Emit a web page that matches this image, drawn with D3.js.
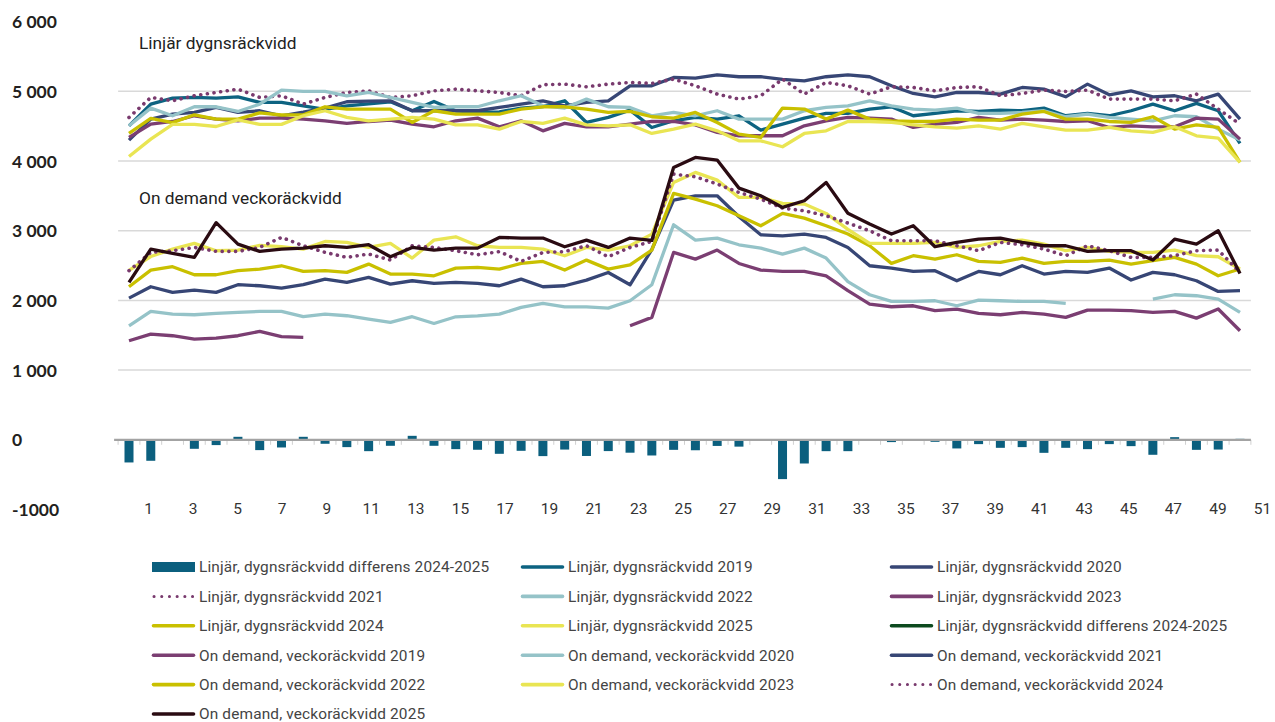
<!DOCTYPE html>
<meta charset="utf-8">
<head>
  <title>Räckvidd per vecka</title>
</head>
<style>
body { margin: 0; background: #fff; }
svg { display: block; }
.ylab { font-family: Lato, "Open Sans", sans-serif; font-weight: bold; font-size: 17.5px; fill: #231f20; }
.xlab { font-family: Roboto, sans-serif; font-size: 15.5px; fill: #333; }
.note { font-family: Roboto, sans-serif; font-size: 17.3px; fill: #222; }
.leg { font-family: Roboto, sans-serif; font-size: 15.4px; letter-spacing: 0.15px; fill: #444; }
.grid { stroke: #d9d9d9; stroke-width: 1.5px; }
.line { fill: none; stroke-width: 3.3px; stroke-linejoin: round; }
.dots { fill: none; stroke-width: 3.6px; stroke-linecap: round; stroke-dasharray: 0.1 6.6; }
</style>
<body>
<script src="https://cdn.jsdelivr.net/npm/d3@7"></script>
<script>

// weeks (categories) and axis labels
var weeks = [1,2,3,4,5,6,7,8,9,10,11,12,13,14,15,16,17,18,19,20,21,22,23,24,25,26,
             27,28,29,30,31,32,33,34,35,36,37,38,39,40,41,42,43,44,45,46,47,48,49,50,51,52];
var xTickLabels = [1,3,5,7,9,11,13,15,17,19,21,23,25,27,29,31,33,35,37,39,41,43,45,47,49,51];
var yTicks = [6000,5000,4000,3000,2000,1000,0,-1000];
var yTickText = ["6 000","5 000","4 000","3 000","2 000","1 000","0","-1000"];
var gridVals = [1000,2000,3000,4000,5000];

// Linjär dygnsräckvidd
var lin2019 = [4505,4816,4902,4912,4902,4921,4840,4840,4792,4740,4790,4820,4850,4721,
  4855,4721,4697,4705,4759,4780,4864,4553,4625,4730,4481,4577,4625,4601,4649,4443,4529,4615,4682,4682,
  4745,4778,4649,4682,4721,4711,4730,4721,4759,4649,4682,4649,4721,4816,4721,4826,4721,4252];
var lin2020 = [4300,4601,4673,4697,4768,4697,4721,4649,4700,4760,4850,4860,4864,4721,
  4721,4721,4721,4768,4816,4864,4792,4840,4864,5079,5079,5199,5189,5237,5209,5209,5170,5151,5209,5237,
  5209,5079,4969,4921,4983,4983,4960,5055,5031,4921,5103,4950,5007,4921,4936,4864,4960,4601];
var lin2021 = [4625,4912,4864,4936,4983,5031,4912,4936,4816,4912,4983,5007,4912,4936,
  5007,5031,5007,4983,4936,5094,5103,5065,5103,5127,5113,5175,5079,4960,4888,4936,5175,4960,5127,5079,
  4960,5065,5055,5007,5055,5065,4936,4969,5017,4998,5017,4888,4888,4888,4864,4960,4745,4529];
var lin2022 = [4505,4759,4649,4778,4778,4711,4816,5017,4998,4998,4936,4983,4912,4840,
  4768,4778,4778,4864,4936,4792,4759,4888,4778,4768,4649,4697,4649,4721,4601,4601,4601,4721,4768,4792,
  4864,4792,4745,4730,4759,4682,4682,4697,4721,4635,4673,4625,4601,4577,4649,4635,4457,4300];
var lin2023 = [4338,4529,4567,4649,4601,4577,4615,4615,4601,4577,4539,4567,4587,4529,
  4491,4577,4615,4491,4577,4433,4539,4491,4491,4529,4567,4567,4519,4410,4362,4362,4362,4505,4577,4625,
  4615,4601,4481,4529,4553,4625,4587,4601,4587,4567,4577,4481,4505,4491,4491,4615,4601,4314];
var lin2024 = [4395,4610,4550,4663,4601,4600,4690,4660,4663,4778,4745,4745,4745,4553,
  4721,4673,4673,4673,4745,4778,4778,4745,4697,4711,4635,4615,4697,4553,4386,4338,4759,4745,4601,4730,
  4601,4577,4567,4567,4601,4587,4587,4673,4711,4601,4601,4567,4553,4635,4457,4519,4481,3979];
var lin2025 = [4065,4314,4525,4525,4495,4590,4525,4525,4649,4721,4625,4577,4601,4625,
  4601,4519,4519,4457,4567,4539,4615,4519,4505,4519,4395,4457,4529,4433,4290,4290,4204,4395,4433,4567,
  4567,4553,4519,4491,4472,4505,4457,4539,4491,4443,4443,4481,4433,4410,4491,4362,4328,3979];
var linDiff = [-325,-301,0,-129,-76,43,-148,-110,43,-57,-105,-163,-86,57,
  -86,-134,-143,-201,-158,-234,-140,-232,-162,-185,-225,-144,-150,-88,-98,-5,-564,-340,-163,-163,
  -14,-33,0,-29,-124,-62,-115,-105,-187,-115,-134,-62,-91,-215,38,-144,-140,14];

// On demand veckoräckvidd
var od2019 = [1421,1517,1493,1445,1459,1493,1555,1479,1469,
  null,null,null,null,null,null,null,null,null,null,null,null,null,null,
  1636,1756,2688,2592,2722,2530,2435,2416,2416,2353,2139,
  1947,1909,1923,1852,1876,1813,1794,1828,1804,1756,1861,1861,1852,1828,1842,1746,1876,1565];
var od2020 = [1636,1842,1804,1794,1813,1828,1842,1842,1766,1804,1780,1732,1684,1766,
  1669,1765,1779,1803,1899,1956,1908,1908,1889,1995,2224,3085,2865,2894,2798,2750,2664,2750,2607,2270,
  2081,1985,1985,1995,1923,2005,1995,1985,1985,1957,null,null,null,2019,2081,2067,2019,1828];
var od2021 = [2033,2196,2115,2148,2115,2225,2210,2177,2225,2306,2258,2330,2234,2282,
  2243,2258,2243,2210,2306,2196,2210,2291,2401,2224,2730,3439,3501,3501,3200,2942,2927,2951,2903,2760,
  2497,2464,2416,2426,2282,2416,2368,2497,2378,2416,2402,2464,2292,2402,2368,2282,2129,2139];
var od2022 = [2196,2435,2483,2368,2368,2426,2450,2497,2416,2426,2402,2521,2378,2378,
  2353,2463,2473,2449,2530,2559,2435,2578,2449,2511,2722,3535,3453,3358,3214,3071,3248,3181,3071,2952,
  2784,2531,2641,2593,2655,2559,2545,2607,2531,2559,2559,2579,2521,2569,2617,2521,2354,2450];
var od2023 = [2430,2630,2736,2818,2712,2722,2790,2772,2736,2846,2832,2760,2818,2607,
  2865,2913,2784,2760,2760,2736,2640,2760,2722,2784,2951,3693,3836,3726,3477,3477,3391,3382,3248,3020,
  2818,2818,2818,2832,2760,2784,2846,2866,2808,2713,2760,2703,2689,2689,2722,2641,2626,2450];
var od2024 = [2426,2689,2713,2760,2703,2703,2760,2904,2784,2689,2617,2665,2579,2784,
  2760,2712,2655,2700,2559,2688,2700,2784,2626,2760,2846,3812,3774,3669,3549,3453,3324,3286,3214,3110,
  2999,2856,2856,2856,2784,2713,2832,2799,2736,2641,2784,2713,2617,2617,2641,2713,2722,2402];
var od2025 = [2258,2736,2674,2617,3115,2808,2703,2736,2751,2784,2760,2799,2626,2760,
  2722,2750,2750,2903,2894,2894,2770,2865,2760,2894,2860,3908,4051,4013,3611,3501,3334,3430,3693,3250,
  3095,2952,3071,2770,2832,2880,2894,2832,2784,2784,2703,2713,2713,2579,2880,2808,2999,2387];

// series list, in legend order
var series = [
  {name: "Linjär, dygnsräckvidd differens 2024-2025", values: linDiff, color: "#0b5f7e", type: "bar"},
  {name: "Linjär, dygnsräckvidd 2019", values: lin2019, color: "#0d6381", type: "line"},
  {name: "Linjär, dygnsräckvidd 2020", values: lin2020, color: "#374675", type: "line"},
  {name: "Linjär, dygnsräckvidd 2021", values: lin2021, color: "#793a6e", type: "dots"},
  {name: "Linjär, dygnsräckvidd 2022", values: lin2022, color: "#95c3c8", type: "line"},
  {name: "Linjär, dygnsräckvidd 2023", values: lin2023, color: "#7b3e72", type: "line"},
  {name: "Linjär, dygnsräckvidd 2024", values: lin2024, color: "#c9c000", type: "line"},
  {name: "Linjär, dygnsräckvidd 2025", values: lin2025, color: "#e9e553", type: "line"},
  {name: "Linjär, dygnsräckvidd differens 2024-2025", values: null, color: "#0d4a1f", type: "line"},
  {name: "On demand, veckoräckvidd 2019", values: od2019, color: "#7b3e72", type: "line"},
  {name: "On demand, veckoräckvidd 2020", values: od2020, color: "#95c3c8", type: "line"},
  {name: "On demand, veckoräckvidd 2021", values: od2021, color: "#374675", type: "line"},
  {name: "On demand, veckoräckvidd 2022", values: od2022, color: "#c9c000", type: "line"},
  {name: "On demand, veckoräckvidd 2023", values: od2023, color: "#e9e553", type: "line"},
  {name: "On demand, veckoräckvidd 2024", values: od2024, color: "#793a6e", type: "dots"},
  {name: "On demand, veckoräckvidd 2025", values: od2025, color: "#2a0b12", type: "line"}
];

var W = 1275, H = 722;
var svg = d3.select("body").append("svg")
    .attr("width", W)
    .attr("height", H);

// scales
var x = d3.scaleLinear().domain([1, 52]).range([129, 1240]);
var xLab = d3.scaleLinear().domain([1, 51]).range([148, 1262]);
var y = d3.scaleLinear().domain([-1000, 6000]).range([509.5, 21.6]);
var step = x(2) - x(1);
var plotL = x(1) - step / 2, plotR = x(52) + step / 2;

// gridlines
svg.append("g").selectAll("line")
    .data(gridVals)
  .enter().append("line")
    .attr("class", "grid")
    .attr("x1", plotL).attr("x2", plotR)
    .attr("y1", function(d) { return y(d); })
    .attr("y2", function(d) { return y(d); });

// y axis labels
var yAxis = svg.append("g")
    .call(d3.axisLeft(y).tickValues(yTicks).tickSize(0)
      .tickFormat(function(d, i) { return yTickText[i]; }));
yAxis.select(".domain").remove();
yAxis.selectAll("text")
    .attr("class", "ylab")
    .attr("x", 12)
    .attr("dy", "0.35em")
    .attr("text-anchor", "start")
    .attr("font-size", null).attr("font-family", null);

// bars (differens)
var bar = series[0];
svg.append("g").selectAll("rect")
    .data(bar.values)
  .enter().append("rect")
    .attr("x", function(d, i) { return x(weeks[i]) - 4.5; })
    .attr("width", 9)
    .attr("y", function(d) { return y(Math.max(0, d)); })
    .attr("height", function(d) { return Math.abs(y(d) - y(0)); })
    .attr("fill", bar.color);

// zero axis with tick marks between weeks
var zero = svg.append("g")
    .attr("transform", "translate(0," + y(0) + ")");
zero.selectAll("line.tk")
    .data(weeks.concat([53]))
  .enter().append("line")
    .attr("x1", function(d) { return x(d) - step / 2; })
    .attr("x2", function(d) { return x(d) - step / 2; })
    .attr("y1", 0).attr("y2", 5)
    .style("stroke", "#d0d0d0").style("stroke-width", "1px");
zero.append("line")
    .attr("x1", plotL - 4).attr("x2", plotR)
    .style("stroke", "#a3a3a3").style("stroke-width", "2.2px");

// lines
var valueline = d3.line()
    .defined(function(d) { return d != null; })
    .x(function(d, i) { return x(weeks[i]); })
    .y(function(d) { return y(d); });

series.forEach(function(s) {
  if (s.type === "bar" || !s.values) return;
  svg.append("path")
      .datum(s.values)
      .attr("class", s.type === "dots" ? "dots" : "line")
      .style("stroke", s.color)
      .attr("d", valueline);
});

// x axis labels
var xAxis = svg.append("g")
    .attr("transform", "translate(0,503)")
    .call(d3.axisBottom(xLab).tickValues(xTickLabels).tickSize(0));
xAxis.select(".domain").remove();
xAxis.selectAll("text")
    .attr("class", "xlab")
    .attr("y", 0)
    .attr("dy", "0.71em")
    .attr("font-size", null).attr("font-family", null);

// notes
svg.append("text").attr("class", "note")
    .attr("x", 139).attr("y", 49)
    .text("Linjär dygnsräckvidd");
svg.append("text").attr("class", "note")
    .attr("x", 139).attr("y", 204)
    .text("On demand veckoräckvidd");

// legend
var colX = [152, 521, 890], rowY0 = 567, rowH = 29.4;
var leg = svg.append("g").selectAll("g")
    .data(series)
  .enter().append("g")
    .attr("transform", function(d, i) {
      return "translate(" + colX[i % 3] + "," + (rowY0 + Math.floor(i / 3) * rowH) + ")";
    });

leg.each(function(d) {
  var g = d3.select(this);
  if (d.type === "bar") {
    g.append("rect").attr("x", 0).attr("y", -5).attr("width", 43).attr("height", 10)
        .attr("fill", d.color);
  } else if (d.type === "dots") {
    g.append("line").attr("class", "dots").attr("x1", 2).attr("x2", 43)
        .attr("y1", 0).attr("y2", 0).style("stroke", d.color)
        .style("stroke-width", "3px").style("stroke-dasharray", "0.1 7.6");
  } else {
    g.append("line").attr("x1", 1.5).attr("x2", 41.5).attr("y1", 0).attr("y2", 0)
        .style("stroke", d.color).style("stroke-width", "3.6px")
        .style("stroke-linecap", "round");
  }
  g.append("text").attr("class", "leg")
      .attr("x", 47).attr("dy", "0.35em")
      .text(d.name);
});

</script>
</body>
